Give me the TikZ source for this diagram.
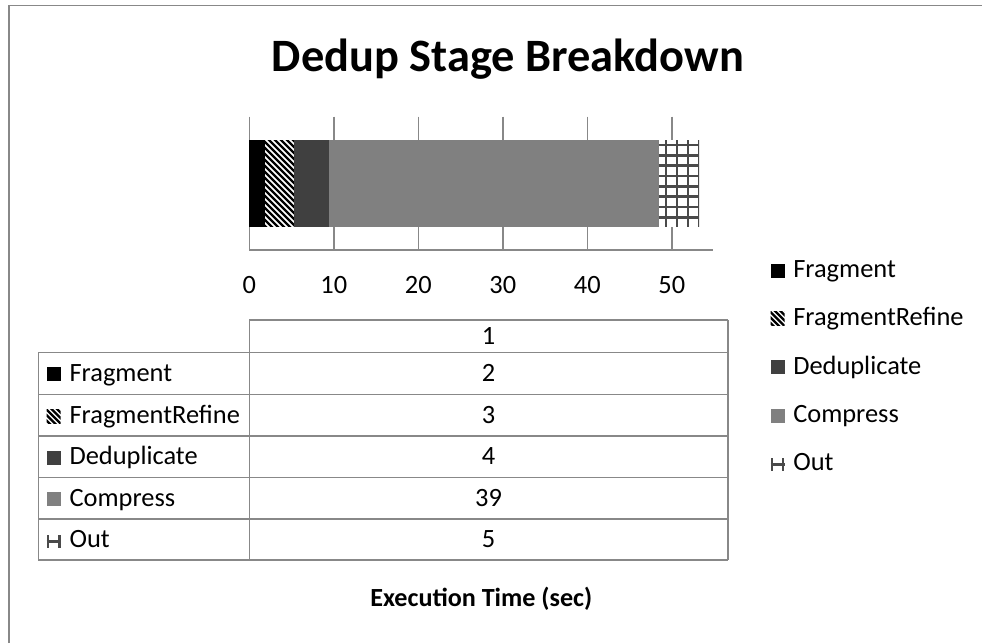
\documentclass[tikz,border=0pt]{standalone}
\usepackage{fontspec}
\setmainfont{Carlito}
\definecolor{gridgray}{HTML}{888888}
\definecolor{dedupgray}{HTML}{404040}
\definecolor{compgray}{HTML}{808080}
\definecolor{hatchgray}{HTML}{4A4A4A}
\begin{document}
\begin{tikzpicture}[x=0.75pt,y=-0.75pt,
  lbl/.style={inner sep=0pt, font=\fontsize{19.8}{23}\selectfont},
  boldlbl/.style={inner sep=0pt, font=\fontsize{19.6}{23}\selectfont\bfseries},
  titlelbl/.style={inner sep=0pt, font=\fontsize{34.8}{40}\selectfont\bfseries},
  gridline/.style={gridgray, line width=1.2pt},
  tableline/.style={gridgray, line width=1.2pt},
  stripe/.style={black, line width=1.6pt},
  hatch/.style={hatchgray, line width=2.1pt}]
\useasboundingbox (0,0) rectangle (982,643);
\fill[white] (0,0) rectangle (982,643);

% chart frame
\draw[gridgray, line width=1.5pt] (9,643) -- (9,5);
\draw[gridgray, line width=0.8pt] (8,5.5) -- (982,5.5);

% title
\node[titlelbl, anchor=base] (title) at (508,71) {Dedup Stage Breakdown};

% vertical gridlines and axis
\foreach \v in {0,10,...,50}
  \draw[gridline] ({249.3+8.45*\v},116.7) -- ({249.3+8.45*\v},250);
\draw[gridline] (249.3,250) -- (713,250);

% stacked bar: Fragment
\fill[black] (249.3,140) rectangle (265,226.7);
% FragmentRefine (diagonal stripes)
\begin{scope}
  \clip (265,140) rectangle (294,226.7);
  \fill[white] (265,140) rectangle (294,226.7);
  \foreach \y in {104,110,...,230}
    \draw[stripe] (263,\y) -- (296,\y+33);
\end{scope}
% Deduplicate
\fill[dedupgray] (294,140) rectangle (329,226.7);
% Compress
\fill[compgray] (329,140) rectangle (658.7,226.7);
% Out (cross hatch)
\begin{scope}
  \clip (658.7,140) rectangle (699,226.7);
  \fill[white] (658.7,140) rectangle (699,226.7);
  \foreach \k in {0,...,7}
    \draw[hatch] (658.7,{145+10.33*\k}) -- (699,{145+10.33*\k});
  \foreach \x in {666,677,688,699}
    \draw[hatch] (\x,140) -- (\x,226.7);
\end{scope}

% tick labels
\foreach \v in {0,10,...,50}
  \node[lbl, anchor=base] (tick\v) at ({249.3+8.45*\v},293.3) {\v};

% legend on the right
\fill[black] (770.5,263.5) rectangle (784.5,277.5);
\begin{scope}
  \clip (770.5,311.5) rectangle (784.5,325.5);
  \fill[white] (770.5,311.5) rectangle (784.5,325.5);
  \foreach \y in {294,299.5,...,330}
    \draw[black, line width=1.7pt] (769,\y) -- (786,\y+17);
\end{scope}
\fill[dedupgray] (770.5,360) rectangle (784.5,374);
\fill[compgray] (770.5,408.5) rectangle (784.5,422.5);
\draw[hatchgray, line width=1.8pt] (771.8,458) -- (771.8,470.5)
  (783.2,458) -- (783.2,470.5) (770.5,464.3) -- (784.5,464.3);
\node[lbl, anchor=base west] (legFragment) at (793,277.5) {Fragment};
\node[lbl, anchor=base west] (legRefine) at (793,325.5) {FragmentRefine};
\node[lbl, anchor=base west] (legDedup) at (793,374) {Deduplicate};
\node[lbl, anchor=base west] (legCompress) at (793,422.5) {Compress};
\node[lbl, anchor=base west] (legOut) at (793,470.5) {Out};

% data table
\draw[tableline] (249.3,320) -- (727.7,320);
\foreach \y in {352.3,394.3,435.7,477.3,519,560}
  \draw[tableline] (38.3,\y) -- (727.7,\y);
\draw[tableline] (38.3,352.3) -- (38.3,560);
\draw[tableline] (249.3,320) -- (249.3,560);
\draw[tableline] (727.7,320) -- (727.7,560);

\node[lbl, anchor=base] (colhead) at (488.5,344.2) {1};
\node[lbl, anchor=base] (valFragment) at (488.5,381.3) {2};
\node[lbl, anchor=base] (valRefine) at (488.5,423) {3};
\node[lbl, anchor=base] (valDedup) at (488.5,464.5) {4};
\node[lbl, anchor=base] (valCompress) at (488.5,506.2) {39};
\node[lbl, anchor=base] (valOut) at (488.5,547.5) {5};

% row keys
\fill[black] (46.7,367) rectangle (60.7,381);
\begin{scope}
  \clip (46.7,409) rectangle (60.7,423);
  \fill[white] (46.7,409) rectangle (60.7,423);
  \foreach \y in {391.5,397,...,427}
    \draw[black, line width=1.7pt] (45,\y) -- (62,\y+17);
\end{scope}
\fill[dedupgray] (46.7,450.5) rectangle (60.7,464.5);
\fill[compgray] (46.7,492.2) rectangle (60.7,506.2);
\draw[hatchgray, line width=1.8pt] (48,535) -- (48,547.5)
  (59.4,535) -- (59.4,547.5) (46.7,541.3) -- (60.7,541.3);
\node[lbl, anchor=base west] (rowFragment) at (69.3,381.3) {Fragment};
\node[lbl, anchor=base west] (rowRefine) at (69.3,423) {FragmentRefine};
\node[lbl, anchor=base west] (rowDedup) at (69.3,464.5) {Deduplicate};
\node[lbl, anchor=base west] (rowCompress) at (69.3,506.2) {Compress};
\node[lbl, anchor=base west] (rowOut) at (69.3,547.5) {Out};

% axis title
\node[boldlbl, anchor=base] (axistitle) at (481.3,606) {Execution Time (sec)};
\end{tikzpicture}
\end{document}
